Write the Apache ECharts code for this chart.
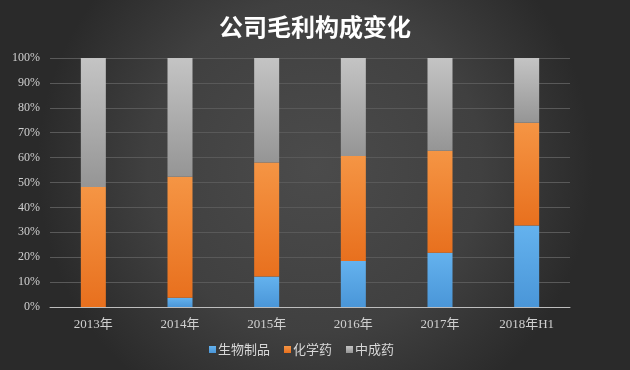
<!DOCTYPE html>
<html>
<head>
<meta charset="utf-8">
<script src="https://cdn.jsdelivr.net/npm/echarts@6/dist/echarts.min.js"></script>
<style>
html,body{margin:0;padding:0;background:#333;}
#c{width:630px;height:370px;}
</style>
</head>
<body>
<div id="c"></div>
<script>
var categories = ['2013年', '2014年', '2015年', '2016年', '2017年', '2018年H1'];
var bio = [0, 3.7, 12.2, 18.5, 21.8, 32.7];
var chem = [48.2, 48.6, 45.8, 42.1, 41.0, 41.3];
var tcm = [51.8, 47.7, 42.0, 39.4, 37.2, 26.0];
var seriesNames = ['生物制品', '化学药', '中成药'];
var titleText = '公司毛利构成变化';

function grad(top, bottom) {
  return new echarts.graphic.LinearGradient(0, 0, 0, 1, [
    {offset: 0, color: top}, {offset: 1, color: bottom}
  ]);
}

var chart = echarts.init(document.getElementById('c'), null, {renderer: 'canvas'});
var serifFont = '"Liberation Serif", "DejaVu Serif", "Noto Sans CJK SC", serif';
chart.setOption({
  backgroundColor: new echarts.graphic.RadialGradient(0.5, 0.45, 0.75, [
    {offset: 0, color: '#4b4b4b'},
    {offset: 0.6, color: '#404040'},
    {offset: 1, color: '#2a2a2a'}
  ]),
  animation: false,
  title: {
    text: titleText,
    left: 'center',
    top: 10,
    textStyle: {color: '#ffffff', fontSize: 24, fontWeight: 'bold', fontFamily: '"Noto Sans CJK SC", sans-serif'}
  },
  legend: {
    bottom: 9,
    left: 204,
    itemWidth: 7,
    itemHeight: 7,
    itemGap: 14,
    icon: 'rect',
    textStyle: {color: '#d8d8d8', fontSize: 13, fontFamily: '"Noto Sans CJK SC", sans-serif', padding: [0, 0, 0, -3]},
    data: seriesNames
  },
  grid: {left: 50, right: 60, top: 58, bottom: 63},
  xAxis: {
    type: 'category',
    data: categories,
    axisLine: {lineStyle: {color: '#bdbdbd', width: 1}},
    axisTick: {show: false},
    axisLabel: {color: '#d0d0d0', fontSize: 13, fontFamily: serifFont, margin: 11}
  },
  yAxis: {
    type: 'value',
    min: 0, max: 100, interval: 10,
    axisLine: {show: false},
    axisTick: {show: false},
    splitLine: {lineStyle: {color: '#595959', width: 1}},
    axisLabel: {color: '#d0d0d0', fontSize: 12, fontFamily: serifFont, formatter: '{value}%', margin: 10}
  },
  series: [
    {name: seriesNames[0], type: 'bar', stack: 'a', barWidth: 25, data: bio,
     itemStyle: {color: grad('#64b2ee', '#4a96d8')}},
    {name: seriesNames[1], type: 'bar', stack: 'a', barWidth: 25, data: chem,
     itemStyle: {color: grad('#f59544', '#e8701e')}},
    {name: seriesNames[2], type: 'bar', stack: 'a', barWidth: 25, data: tcm,
     itemStyle: {color: grad('#c4c4c4', '#959595')}}
  ]
});
</script>
</body>
</html>
